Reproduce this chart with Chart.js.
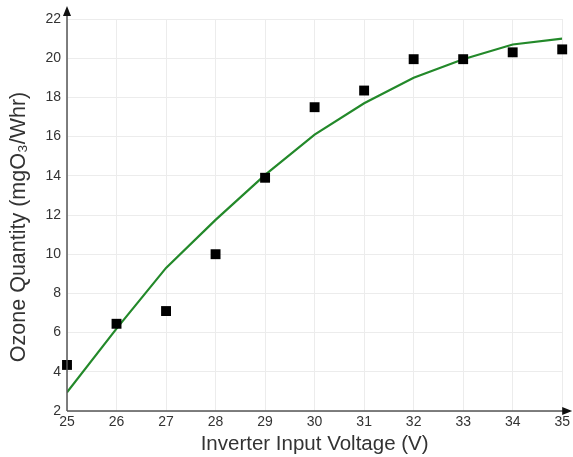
<!DOCTYPE html>
<html>
<head>
<meta charset="utf-8">
<script src="https://cdn.jsdelivr.net/npm/chart.js@4/dist/chart.umd.min.js"></script>
<style>
html,body{margin:0;padding:0;background:#fff;}
#wrap{width:573px;height:457px;}
</style>
</head>
<body>
<div id="wrap"><canvas id="c" width="573" height="457"></canvas></div>
<script>
const voltages = [25, 26, 27, 28, 29, 30, 31, 32, 33, 34, 35];
const measured = [4.35, 6.45, 7.1, 10.0, 13.9, 17.5, 18.35, 19.95, 19.95, 20.3, 20.45];
const fitted = [2.95, 6.2, 9.3, 11.75, 14.05, 16.1, 17.7, 19.0, 19.95, 20.7, 21.0];
const xTicks = [25, 26, 27, 28, 29, 30, 31, 32, 33, 34, 35];
const yTicks = [2, 4, 6, 8, 10, 12, 14, 16, 18, 20, 22];

const axisColor = '#555';
const arrows = {
  id: 'arrows',
  afterDraw(chart) {
    const ctx = chart.ctx;
    const a = chart.chartArea;
    ctx.save();
    ctx.strokeStyle = axisColor;
    ctx.fillStyle = '#111';
    ctx.lineWidth = 1.5;
    ctx.beginPath();
    ctx.moveTo(a.left, a.bottom);
    ctx.lineTo(a.left, a.top - 8);
    ctx.moveTo(a.left, a.bottom);
    ctx.lineTo(a.right + 6, a.bottom);
    ctx.stroke();
    ctx.beginPath();
    ctx.moveTo(a.left, a.top - 13);
    ctx.lineTo(a.left - 4, a.top - 3);
    ctx.lineTo(a.left + 4, a.top - 3);
    ctx.closePath();
    ctx.fill();
    ctx.beginPath();
    ctx.moveTo(a.right + 10, a.bottom);
    ctx.lineTo(a.right, a.bottom - 4);
    ctx.lineTo(a.right, a.bottom + 4);
    ctx.closePath();
    ctx.fill();
    ctx.restore();
  }
};

new Chart(document.getElementById('c'), {
  data: {
    datasets: [
      {
        type: 'line',
        label: 'Fit',
        data: voltages.map((v, i) => ({x: v, y: fitted[i]})),
        borderColor: '#23892a',
        borderWidth: 2.2,
        pointRadius: 0,
        tension: 0,
        fill: false,
        order: 2
      },
      {
        type: 'scatter',
        label: 'Measured',
        data: voltages.map((v, i) => ({x: v, y: measured[i]})),
        pointStyle: 'rect',
        pointRadius: 7,
        backgroundColor: '#000',
        borderColor: '#000',
        borderWidth: 0,
        clip: false,
        order: 1
      }
    ]
  },
  options: {
    responsive: false,
    animation: false,
    devicePixelRatio: 1,
    layout: {padding: {top: 19, right: 10, left: 0, bottom: 0}},
    plugins: {legend: {display: false}, tooltip: {enabled: false}},
    scales: {
      x: {
        type: 'linear',
        min: 25, max: 35,
        afterBuildTicks(s) { s.ticks = xTicks.map(v => ({value: v})); },
        afterFit(s) { s.height = 46; },
        grid: {color: '#ececec', lineWidth: 1, drawTicks: false},
        border: {display: false},
        ticks: {color: '#333', font: {family: 'Liberation Sans, Arial', size: 14}, padding: 3, autoSkip: false, maxRotation: 0},
        title: {display: true, text: 'Inverter Input Voltage (V)', color: '#333', font: {family: 'Liberation Sans, Arial', size: 20.5}, padding: {top: 0, bottom: 0}}
      },
      y: {
        type: 'linear',
        min: 2, max: 22,
        afterBuildTicks(s) { s.ticks = yTicks.map(v => ({value: v})); },
        afterFit(s) { s.width = 67; },
        grid: {color: '#ececec', lineWidth: 1, drawTicks: false},
        border: {display: false},
        ticks: {color: '#333', font: {family: 'Liberation Sans, Arial', size: 14}, padding: 6},
        title: {display: true, text: 'Ozone Quantity (mgO₃/Whr)\u00A0\u00A0\u00A0\u00A0', color: '#333', font: {family: 'Liberation Sans, Arial', size: 21.5}, padding: {top: 6, bottom: 0}}
      }
    }
  },
  plugins: [arrows]
});
</script>
</body>
</html>
